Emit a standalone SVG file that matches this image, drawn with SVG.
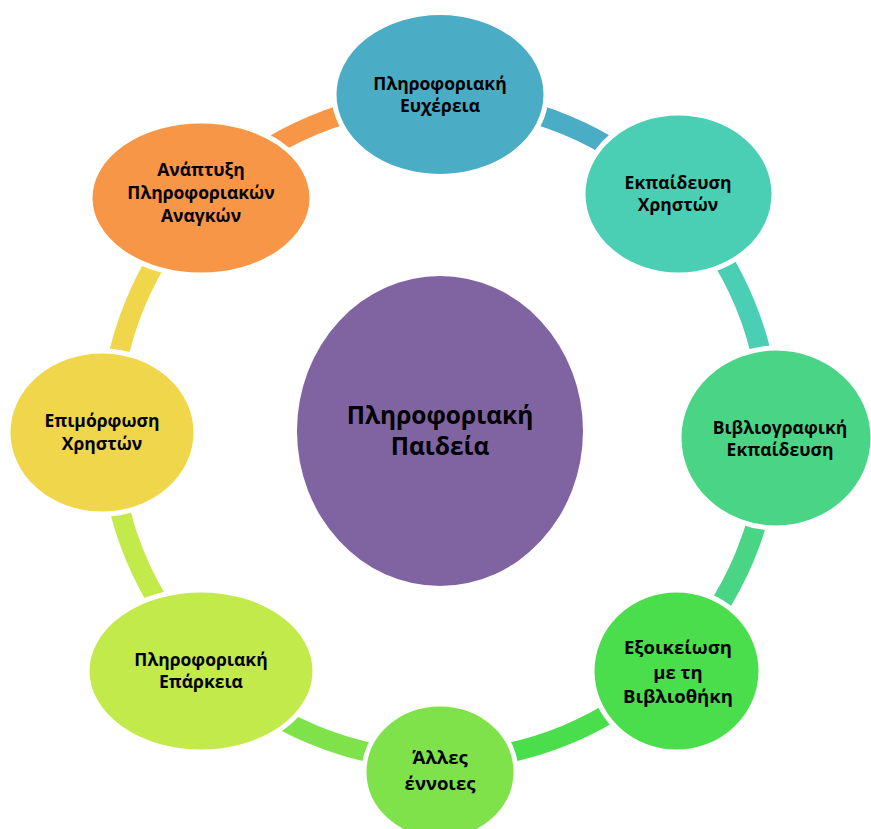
<svg xmlns="http://www.w3.org/2000/svg" width="871" height="829" viewBox="0 0 871 829">
<style>
.band{fill:none;stroke-width:20}
.node{stroke:#fff;stroke-width:5}
.t{font-family:"Open Sans","Noto Sans","DejaVu Sans",sans-serif;font-weight:bold;fill:#000;text-anchor:middle;font-size:17.5px}
.big{font-size:18.5px}
.c{font-size:24.5px}
</style>
<rect width="871" height="829" fill="#fff"/>
<g id="connectors">
<path class="band" stroke="#4BACC6" d="M440,100 A330,330 0 0 1 673.35,196.65"/>
<path class="band" stroke="#4ACFB5" d="M673.35,196.65 A330,330 0 0 1 770,430"/>
<path class="band" stroke="#4AD586" d="M770,430 A330,330 0 0 1 673.35,663.35"/>
<path class="band" stroke="#4ADE4C" d="M673.35,663.35 A330,330 0 0 1 440,760"/>
<path class="band" stroke="#7FE24A" d="M440,760 A330,330 0 0 1 206.65,663.35"/>
<path class="band" stroke="#C3EA4B" d="M206.65,663.35 A330,330 0 0 1 110,430"/>
<path class="band" stroke="#F0D64A" d="M110,430 A330,330 0 0 1 206.65,196.65"/>
<path class="band" stroke="#F79646" d="M206.65,196.65 A330,330 0 0 1 440,100"/>
</g>
<g id="center">
<ellipse cx="440" cy="431" rx="143" ry="155" fill="#8064A2"/>
<text class="t c" x="440" y="424">Πληροφοριακή</text>
<text class="t c" x="440" y="455">Παιδεία</text>
</g>
<g id="n1">
<ellipse class="node" cx="440" cy="94.5" rx="106" ry="82" fill="#4BACC6"/>
<text class="t" x="440" y="90">Πληροφοριακή</text>
<text class="t" x="440" y="112">Ευχέρεια</text>
</g>
<g id="n2">
<ellipse class="node" cx="678.5" cy="194" rx="95.5" ry="81" fill="#4ACFB5"/>
<text class="t" x="678" y="189">Εκπαίδευση</text>
<text class="t" x="678" y="211">Χρηστών</text>
</g>
<g id="n3">
<ellipse class="node" cx="776" cy="438" rx="97" ry="90" fill="#4AD586"/>
<text class="t" x="780" y="434">Βιβλιογραφική</text>
<text class="t" x="780" y="456">Εκπαίδευση</text>
</g>
<g id="n4">
<ellipse class="node" cx="676.5" cy="671" rx="84.5" ry="81" fill="#4ADE4C"/>
<text class="t big" x="678" y="654">Εξοικείωση</text>
<text class="t big" x="678" y="679">με τη</text>
<text class="t big" x="678" y="703">Βιβλιοθήκη</text>
</g>
<g id="n5">
<ellipse class="node" cx="440" cy="772" rx="76" ry="68" fill="#7FE24A"/>
<text class="t big" x="440" y="764">Άλλες</text>
<text class="t big" x="440" y="790">έννοιες</text>
</g>
<g id="n6">
<ellipse class="node" cx="201" cy="671" rx="114" ry="81" fill="#C3EA4B"/>
<text class="t" x="201" y="666">Πληροφοριακή</text>
<text class="t" x="201" y="688">Επάρκεια</text>
</g>
<g id="n7">
<ellipse class="node" cx="102" cy="432.5" rx="94" ry="81.5" fill="#F0D64A"/>
<text class="t" x="102" y="427">Επιμόρφωση</text>
<text class="t" x="102" y="450">Χρηστών</text>
</g>
<g id="n8">
<ellipse class="node" cx="201" cy="198" rx="111" ry="77" fill="#F79646"/>
<text class="t" x="201" y="176">Ανάπτυξη</text>
<text class="t" x="201" y="199">Πληροφοριακών</text>
<text class="t" x="201" y="222">Αναγκών</text>
</g>
</svg>
